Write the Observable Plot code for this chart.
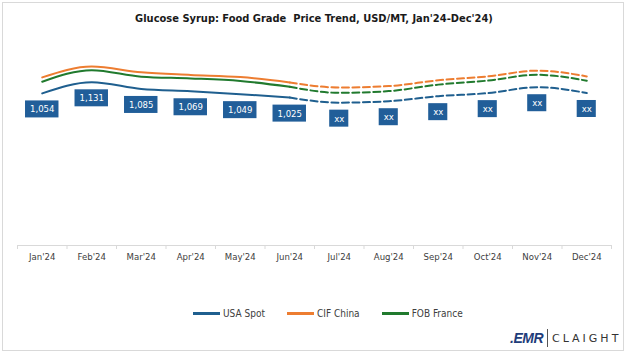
<!DOCTYPE html>
<html><head><meta charset="utf-8">
<script src="https://cdn.jsdelivr.net/npm/d3@7"></script>
<script src="https://cdn.jsdelivr.net/npm/@observablehq/plot@0.6"></script>
<style>
body{margin:0;background:#fff}
#wrap{position:relative;width:628px;height:358px;overflow:hidden;background:#fff;font-family:"Liberation Sans Narrow","DejaVu Sans Condensed","Liberation Sans",sans-serif}
#frame{position:absolute;left:2px;top:2px;width:622px;height:349px;border:1px solid #d9d9d9;box-sizing:border-box}
#title{position:absolute;left:0;top:12px;width:628px;text-align:center;font-weight:bold;font-size:11px;color:#1a1a1a;white-space:pre}
#chart{position:absolute;left:0;top:0}
#legend{position:absolute;left:193px;top:308px;display:flex;align-items:center;font-size:10px;color:#404040;font-family:"Liberation Sans Narrow","DejaVu Sans Condensed",sans-serif}
#legend .item{display:flex;align-items:center;margin-right:22px}
#legend .sw{width:27px;height:2.5px;margin-right:3px}
#logo{position:absolute;left:510px;top:328px;display:flex;align-items:center;height:20px}
#logo .emr{font-family:"Liberation Sans",sans-serif;font-weight:bold;font-style:italic;font-size:14px;color:#1f3d7a;letter-spacing:-0.5px}
#logo .bar{width:1px;height:18px;background:#555;margin:0 4px}
#logo .cl{font-family:"DejaVu Sans",sans-serif;font-size:11px;color:#333;letter-spacing:3px}
</style></head><body>
<div id="wrap">
 <div id="frame"></div>
 <div id="title">Glucose Syrup: Food Grade  Price Trend, USD/MT, Jan'24-Dec'24)</div>
 <div id="chart"></div>
 <div id="legend"></div>
 <div id="logo"><span class="emr">.EMR</span><span class="bar"></span><span class="cl">CLAIGHT</span></div>
</div>
<script>
const months = ["Jan'24","Feb'24","Mar'24","Apr'24","May'24","Jun'24","Jul'24","Aug'24","Sep'24","Oct'24","Nov'24","Dec'24"];
const usaSpot   = [1054, 1131, 1085, 1069, 1049, 1025, 990, 1000, 1035, 1056, 1097, 1057];
const cifChina  = [1165, 1240, 1200, 1182, 1167, 1130, 1095, 1105, 1145, 1172, 1212, 1172];
const fobFrance = [1135, 1215, 1170, 1158, 1140, 1100, 1058, 1070, 1115, 1143, 1183, 1142];
const usaLabels = ["1,054","1,131","1,085","1,069","1,049","1,025","xx","xx","xx","xx","xx","xx"];
const seriesNames = ["USA Spot","CIF China","FOB France"];
const seriesColors = ["#1f5f8f","#ed7d31","#217a2e"];
const lastActual = 5; // Jun'24 index: solid up to here, dashed after

const seriesValues = [usaSpot, cifChina, fobFrance];
const rows = [];
seriesValues.forEach((vals, s) => vals.forEach((v, i) => rows.push({s: seriesNames[s], i, v})));
const solidRows = rows.filter(d => d.i <= lastActual);
const dashRows = rows.filter(d => d.i >= lastActual);
const labelRows = usaSpot.map((v, i) => ({i, v, label: usaLabels[i]}));
const bounds = d3.range(months.length + 1).map(k => k - 0.5);

const labelFont = "9.5px 'Liberation Sans Narrow', 'DejaVu Sans Condensed', sans-serif";
const measure = document.createElement("canvas").getContext("2d");
measure.font = labelFont;

function boxedLabels(data, options) {
  return Plot.text(data, {
    ...options,
    render(index, scales, values, dimensions, context, next) {
      const g = next(index, scales, values, dimensions, context);
      const wrap = d3.create("svg:g");
      const boxes = wrap.append("g");
      for (const i of index) {
        const w = measure.measureText(data[i].label).width + 9;
        const h = 17;
        const cx = values.x[i], cy = values.y[i] + options.dy;
        boxes.append("rect")
          .attr("x", cx - w / 2).attr("y", cy - h / 2)
          .attr("width", w).attr("height", h)
          .attr("fill", "#215e99");
      }
      wrap.append(() => g);
      return wrap.node();
    }
  });
}

const plot = Plot.plot({
  width: 628,
  height: 300,
  marginLeft: 17,
  marginRight: 17,
  marginTop: 43,
  marginBottom: 55,
  x: {type: "linear", domain: [-0.5, months.length - 0.5], axis: null},
  y: {domain: [0, 1400], axis: null},
  color: {domain: seriesNames, range: seriesColors},
  style: {fontFamily: "'Liberation Sans Narrow','DejaVu Sans Condensed',sans-serif", background: "transparent"},
  marks: [
    Plot.ruleY([0], {stroke: "#d9d9d9"}),
    Plot.ruleX(bounds, {x: d => d, y1: 0, y2: 0, insetBottom: -4, stroke: "#d9d9d9"}),
    Plot.axisX({ticks: d3.range(months.length), tickFormat: i => months[i], tickSize: 0, tickPadding: 8, fontSize: 9.5, color: "#404040", label: null}),
    Plot.line(solidRows, {x: "i", y: "v", z: "s", stroke: "s", strokeWidth: 2, curve: "monotone-x"}),
    Plot.line(dashRows, {x: "i", y: "v", z: "s", stroke: "s", strokeWidth: 2, strokeDasharray: "7,3.5", curve: "monotone-x"}),
    boxedLabels(labelRows, {x: "i", y: "v", text: "label", dy: 16, fill: "white", fontSize: 9.5})
  ]
});
document.getElementById("chart").append(plot);

const legend = d3.select("#legend");
seriesNames.forEach((n, k) => {
  const it = legend.append("div").attr("class", "item");
  it.append("div").attr("class", "sw").style("background", seriesColors[k]);
  it.append("span").text(n);
});
</script>
</body></html>
